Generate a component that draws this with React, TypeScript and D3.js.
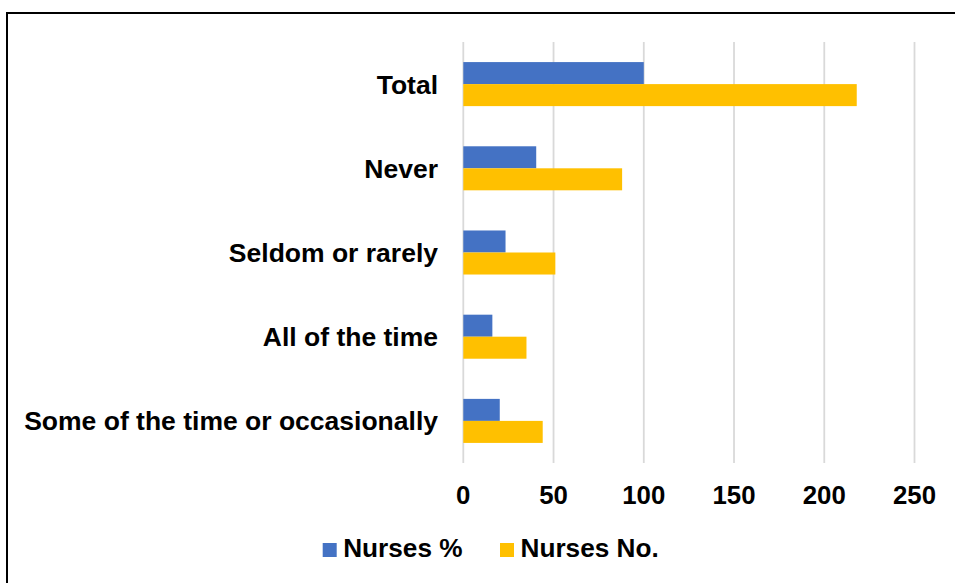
import React from "react";
import * as d3 from "d3";

const categories = ["Total", "Never", "Seldom or rarely", "All of the time", "Some of the time or occasionally"];
const nursesPct = [100, 40.4, 23.4, 16.1, 20.2];
const nursesNo = [218, 88, 51, 35, 44];
const xTicks = [0, 50, 100, 150, 200, 250];
const seriesNames = ["Nurses %", "Nurses No."];
const seriesColors = ["#4472C4", "#FFC000"];

const W = 955;
const H = 583;
const FONT = "'Liberation Sans', Arial, sans-serif";

export default function App() {
  const x = d3.scaleLinear().domain([0, 250]).range([463.3, 914.5]);
  const y = d3
    .scaleBand<string>()
    .domain(categories)
    .range([42, 463])
    .paddingInner(0.477)
    .paddingOuter(0.2385);
  const sub = d3.scaleBand<string>().domain(seriesNames).range([0, y.bandwidth()]);
  const series = [nursesPct, nursesNo];

  return (
    <svg
      width={W}
      height={H}
      style={{ position: "fixed", left: 0, top: 0, background: "#fff" }}
      fontFamily={FONT}
    >
      <rect x={0} y={0} width={W} height={H} fill="#fff" />
      <path d={`M7,${H + 5} V13 H${W + 5}`} fill="none" stroke="#000" strokeWidth={2} />
      {xTicks.map((t) => (
        <line key={t} x1={x(t)} x2={x(t)} y1={42} y2={463} stroke="#D9D9D9" strokeWidth={1.8} />
      ))}
      {categories.map((c, i) => (
        <g key={c}>
          {series.map((vals, s) => (
            <rect
              key={s}
              x={x(0)}
              y={(y(c) as number) + (sub(seriesNames[s]) as number)}
              width={x(vals[i]) - x(0)}
              height={sub.bandwidth()}
              fill={seriesColors[s]}
            />
          ))}
          <text
            x={438}
            y={(y(c) as number) + y.bandwidth() / 2 + 9.5}
            textAnchor="end"
            fontWeight="bold"
            fontSize={26.5}
            fill="#000"
          >
            {c}
          </text>
        </g>
      ))}
      {xTicks.map((t) => (
        <text key={t} x={x(t)} y={504} textAnchor="middle" fontWeight="bold" fontSize={25.8} fill="#000">
          {t}
        </text>
      ))}
      {seriesNames.map((n, s) => {
        const lx = s === 0 ? 322.7 : 500;
        return (
          <g key={n}>
            <rect x={lx} y={543} width={14} height={14} fill={seriesColors[s]} />
            <text x={lx + 20.5} y={557} fontWeight="bold" fontSize={26.2} fill="#000">
              {n}
            </text>
          </g>
        );
      })}
    </svg>
  );
}
